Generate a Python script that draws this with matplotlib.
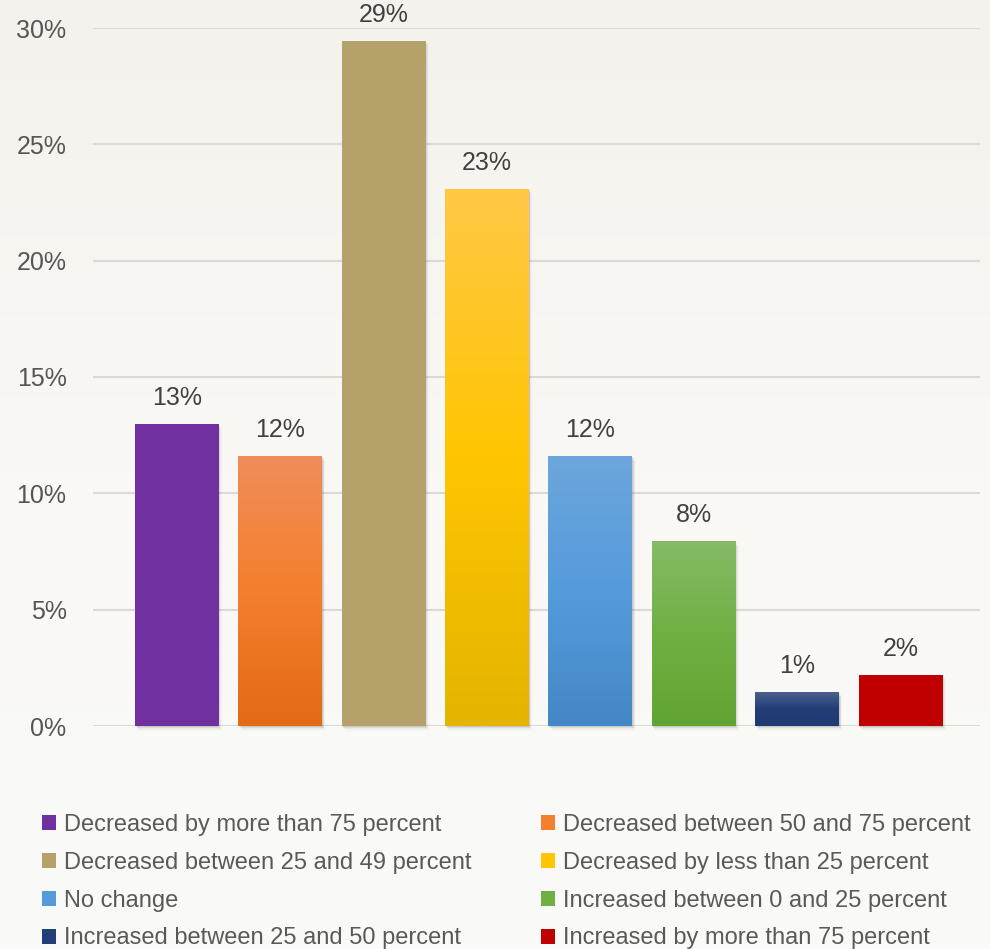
import numpy as np
import matplotlib
matplotlib.use("Agg")
import matplotlib.pyplot as plt
from matplotlib.colors import LinearSegmentedColormap
from matplotlib.patches import Rectangle, Patch
from matplotlib.ticker import FuncFormatter

plt.rcParams['font.family'] = ['Liberation Sans', 'DejaVu Sans']

categories = [
    "Decreased by more than 75 percent",
    "Decreased between 50 and 75 percent",
    "Decreased between 25 and 49 percent",
    "Decreased by less than 25 percent",
    "No change",
    "Increased between 0 and 25 percent",
    "Increased between 25 and 50 percent",
    "Increased by more than 75 percent",
]
values = [13.0, 11.6, 29.45, 23.1, 11.6, 7.95, 1.45, 2.2]
yticks = [0, 5, 10, 15, 20, 25, 30]

# top / middle / bottom colours of each bar's vertical gradient
gradients = [
    ("#7030a0", "#7030a0", "#7030a0"),
    ("#f08d5b", "#f47f2c", "#e36a17"),
    ("#b5a16a", "#b5a16a", "#b5a16a"),
    ("#ffc845", "#ffc502", "#e3b400"),
    ("#6ca6dc", "#559bdb", "#4487c6"),
    ("#86ba67", "#70b043", "#62a433"),
    ("#4a5f8d", "#223d78", "#1e3a74"),
    ("#c00000", "#c00000", "#c00000"),
]

fig = plt.figure(figsize=(9.9, 9.49), dpi=100)

# soft background wash
bg = fig.add_axes([0, 0, 1, 1], zorder=-10)
bg_grad = np.linspace(0, 1, 256).reshape(-1, 1)
bg_cmap = LinearSegmentedColormap.from_list("bg", ["#f4f2ec", "#f9f8f5", "#fafaf8"])
bg.imshow(bg_grad, cmap=bg_cmap, aspect="auto", extent=(0, 1, 0, 1))
bg.axis("off")

ax = fig.add_axes([93 / 990, 1 - 726 / 949, (980 - 93) / 990, (726 - 28) / 949])
ax.patch.set_alpha(0)

x = np.arange(len(values))
width = 0.81
xmin, xmax = -0.81, 7.77
ax.set_xlim(xmin, xmax)
ax.set_ylim(0, 30)

bars = ax.bar(x, values, width=width, color=[g[1] for g in gradients], zorder=3)

for rect, g in zip(bars, gradients):
    x0, w, h = rect.get_x(), rect.get_width(), rect.get_height()
    # soft drop shadow to the right and below
    for k, a in enumerate([0.12, 0.08, 0.05, 0.03]):
        ax.add_patch(Rectangle((x0 + 0.008 * (k + 1), -0.05 * (k + 1)), w, h,
                               facecolor="#404040", alpha=a, edgecolor="none",
                               zorder=2, clip_on=False))
    cmap = LinearSegmentedColormap.from_list("bar", [g[2], g[1], g[0]])
    im = ax.imshow(np.linspace(0, 1, 256).reshape(-1, 1), cmap=cmap, origin="lower",
                   aspect="auto", extent=(x0, x0 + w, 0, h), zorder=4)
    im.set_clip_path(rect)

for rect, v in zip(bars, values):
    ax.text(rect.get_x() + rect.get_width() / 2, rect.get_height() + 0.6, f"{round(v)}%",
            ha="center", va="bottom", fontsize=18, color="#404040", zorder=5)

ax.set_xlim(xmin, xmax)
ax.set_ylim(0, 30)
ax.set_yticks(yticks)
ax.yaxis.set_major_formatter(FuncFormatter(lambda v, p: f"{v:.0f}%"))
ax.tick_params(axis="y", length=0, pad=19, labelsize=18, labelcolor="#555555")
ax.set_xticks([])
ax.grid(axis="y", color="#d9d9d9", linewidth=1.5, zorder=0)
for s in ax.spines.values():
    s.set_visible(False)

handles = [Patch(facecolor=g[1], edgecolor="none") for g in gradients]
order = [0, 2, 4, 6, 1, 3, 5, 7]
fig.legend([handles[i] for i in order], [categories[i] for i in order],
           ncol=2, loc="upper left", bbox_to_anchor=(42 / 990, 1 - 814 / 949),
           frameon=False, fontsize=17, labelcolor="#595959",
           handlelength=0.6, handleheight=0.6, handletextpad=0.33,
           columnspacing=2.95, labelspacing=0.67, borderpad=0, borderaxespad=0)

fig.savefig("out.png", dpi=100)
